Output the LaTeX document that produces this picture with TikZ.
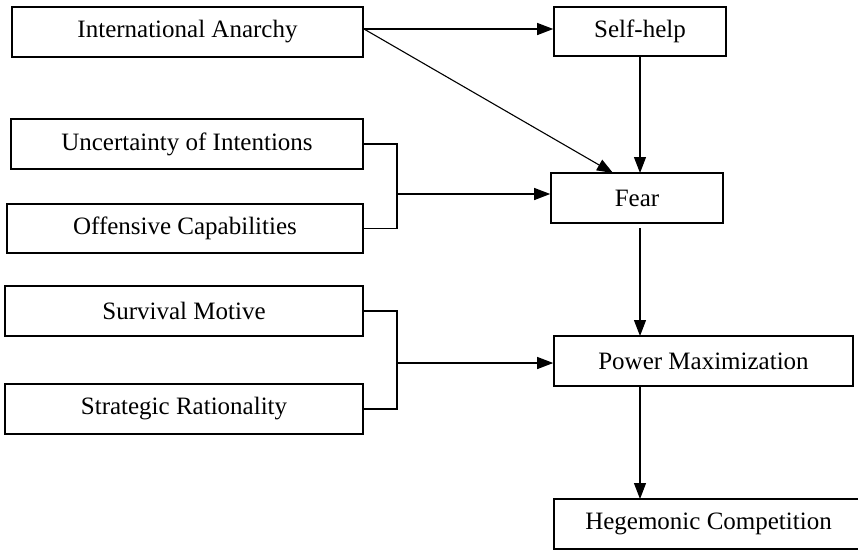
\documentclass[tikz,border=0pt]{standalone}
\usepackage{fontspec}
\setmainfont{Liberation Serif}
\usetikzlibrary{arrows.meta}
\begin{document}
\begin{tikzpicture}[x=1pt,y=-1pt,
  box/.style={draw=black,line width=1.6pt,inner sep=0pt,font=\fontsize{25pt}{30pt}\selectfont},
  conn/.style={draw=black,line width=1.1pt},
  arr/.style={conn,-{Triangle[length=16pt,width=12pt]}}]
\useasboundingbox (0,0) rectangle (858,550);
\node[box,minimum width=351pt,minimum height=50pt] (IA) at (187.5,32) {International Anarchy};
\node[box,minimum width=172pt,minimum height=49pt] (SH) at (640,31.5) {Self-help};
\node[box,minimum width=352pt,minimum height=50pt] (UI) at (187,144) {Uncertainty of Intentions};
\node[box,minimum width=356pt,minimum height=49pt] (OC) at (185,228.5) {Offensive Capabilities};
\node[box,minimum width=172pt,minimum height=50pt] (FE) at (637,198) {Fear};
\node[box,minimum width=358pt,minimum height=50pt] (SM) at (184,311) {Survival Motive};
\node[box,minimum width=358pt,minimum height=50pt] (SR) at (184,409) {Strategic Rationality};
\node[box,minimum width=299pt,minimum height=50pt] (PM) at (703.5,361) {Power Maximization};
\node[box,minimum width=309pt,minimum height=50pt] (HC) at (708.5,524) {Hegemonic Competition};
\coordinate (IAo) at (364,29);
\coordinate (b1) at (397,194);
\coordinate (b2) at (397,363);
\draw[arr] (IAo) -- (IAo -| SH.west);
\draw[arr] (IAo) -- (613,173);
\draw[arr] (SH.south -| 640,0) -- (640,173);
\draw[conn] (UI.east) -| (b1) |- (OC.east);
\draw[arr] (b1) -- (b1 -| FE.west);
\draw[conn] (SM.east) -| (b2) |- (SR.east);
\draw[arr] (b2) -- (b2 -| PM.west);
\draw[arr] (640,228) -- (640,336);
\draw[arr] (PM.south -| 640,0) -- (640,499);
\end{tikzpicture}
\end{document}
